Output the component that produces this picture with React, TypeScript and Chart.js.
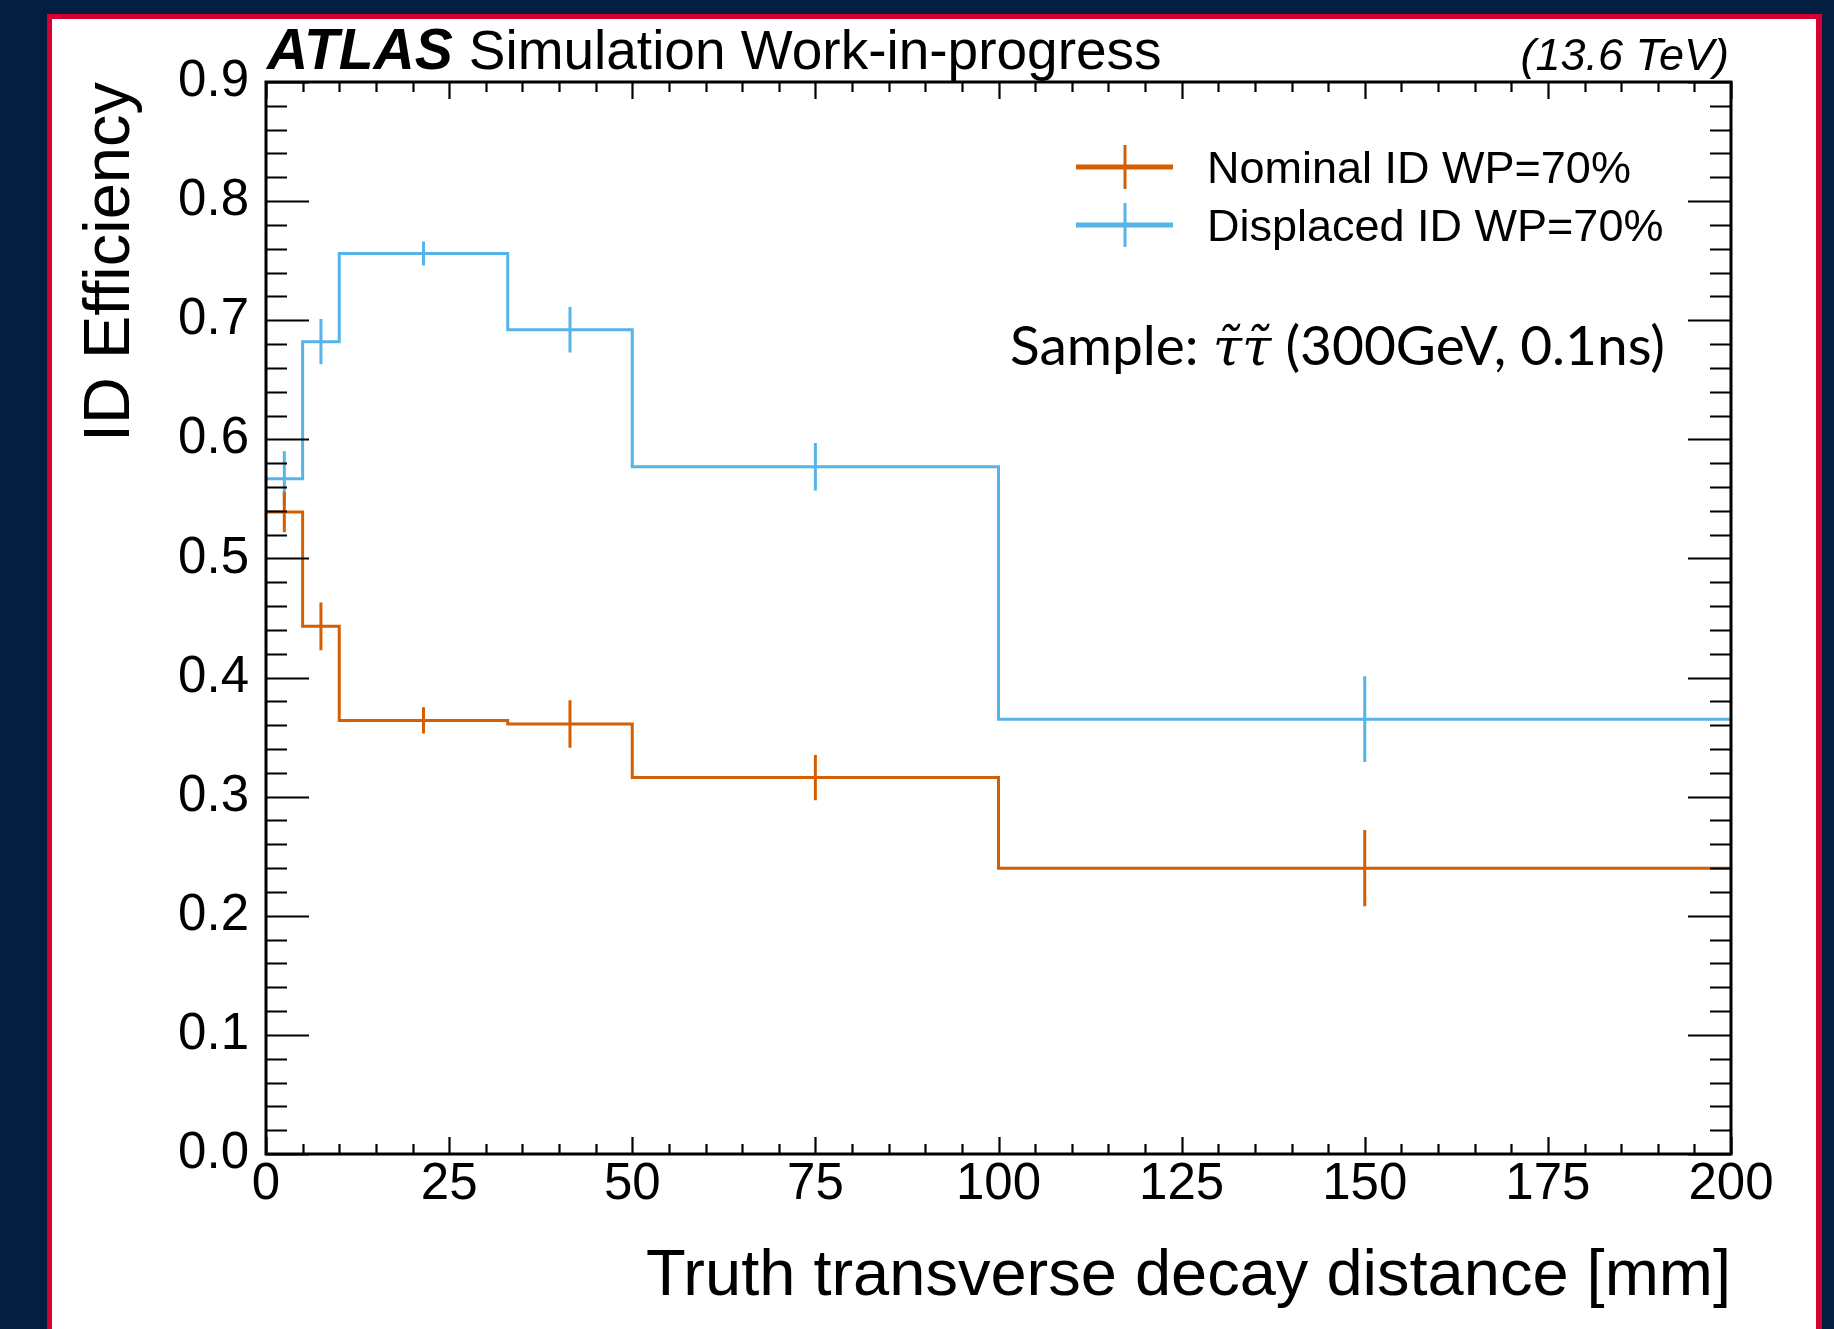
import { useEffect, useRef } from 'react';
import { Chart, registerables } from 'chart.js';

Chart.register(...registerables);

// ---- data ----
const binEdges = [0, 5, 10, 33, 50, 100, 200];
const nominalEff = [0.539, 0.443, 0.364, 0.361, 0.316, 0.24];
const nominalErr = [0.017, 0.02, 0.011, 0.02, 0.019, 0.032];
const displacedEff = [0.567, 0.682, 0.756, 0.692, 0.577, 0.365];
const displacedErr = [0.023, 0.019, 0.01, 0.019, 0.02, 0.036];
const seriesLabels = ['Nominal ID WP=70%', 'Displaced ID WP=70%'];
const seriesColors = ['#D55E00', '#56B4E9'];
const xTitle = 'Truth transverse decay distance [mm]';
const yTitle = 'ID Efficiency';
const atlasLabel = 'ATLAS';
const atlasSub = 'Simulation Work-in-progress';
const energyLabel = '(13.6 TeV)';
const sampleParts = ['Sample: ', 'τ̃τ̃', ' (300GeV, 0.1ns)'];
const xRange = [0, 200];
const yRange = [0, 0.9];
const xMajorStep = 25;
const xMinorStep = 5;
const yMajorStep = 0.1;
const yMinorStep = 0.02;

const SANS = '"Liberation Sans", Arial, Helvetica, sans-serif';

const stepPoints = (vals: number[]) =>
  binEdges.map((e, i) => ({ x: e, y: vals[Math.min(i, vals.length - 1)] }));

const errPoints = (vals: number[], errs: number[]) => {
  const pts: { x: number; y: number | null }[] = [];
  vals.forEach((v, i) => {
    const c = (binEdges[i] + binEdges[i + 1]) / 2;
    pts.push({ x: c, y: v - errs[i] });
    pts.push({ x: c, y: v + errs[i] });
    pts.push({ x: c, y: null });
  });
  return pts;
};

const decorPlugin = {
  id: 'decor',
  beforeDraw(chart: any) {
    const { ctx, width, height } = chart;
    ctx.save();
    ctx.fillStyle = '#041E42';
    ctx.fillRect(0, 0, width, height);
    ctx.fillStyle = '#D50032';
    ctx.fillRect(47, 14, 1822 - 47, height - 14);
    ctx.fillStyle = '#FFFFFF';
    ctx.fillRect(52, 19, 1816 - 52, height - 19);
    ctx.restore();
  },
  afterDraw(chart: any) {
    const { ctx, chartArea: a } = chart;
    const xs = chart.scales.x;
    const ys = chart.scales.y;
    ctx.save();
    // ticks (ROOT style, inside, all four sides)
    ctx.strokeStyle = '#000';
    ctx.lineWidth = 2.2;
    ctx.beginPath();
    const nx = Math.round((xRange[1] - xRange[0]) / xMinorStep);
    for (let i = 0; i <= nx; i++) {
      const v = xRange[0] + i * xMinorStep;
      const px = Math.round(xs.getPixelForValue(v)) + 0.5;
      const major = Math.abs(v / xMajorStep - Math.round(v / xMajorStep)) < 1e-6;
      const len = major ? 17 : 10;
      ctx.moveTo(px, a.bottom);
      ctx.lineTo(px, a.bottom - len);
      ctx.moveTo(px, a.top);
      ctx.lineTo(px, a.top + len);
    }
    const ny = Math.round((yRange[1] - yRange[0]) / yMinorStep);
    for (let i = 0; i <= ny; i++) {
      const v = yRange[0] + i * yMinorStep;
      const py = Math.round(ys.getPixelForValue(v)) + 0.5;
      const major = Math.abs(v / yMajorStep - Math.round(v / yMajorStep)) < 1e-6;
      const len = major ? 43 : 21;
      ctx.moveTo(a.left, py);
      ctx.lineTo(a.left + len, py);
      ctx.moveTo(a.right, py);
      ctx.lineTo(a.right - len, py);
    }
    ctx.stroke();
    // frame
    ctx.lineWidth = 3;
    ctx.strokeRect(a.left, a.top, a.right - a.left, a.bottom - a.top);

    // ATLAS label
    ctx.fillStyle = '#000';
    ctx.textBaseline = 'alphabetic';
    ctx.textAlign = 'left';
    ctx.font = `italic bold 57px ${SANS}`;
    ctx.fillText(atlasLabel, a.left + 1, 69);
    const aw = ctx.measureText(atlasLabel).width;
    ctx.font = `55px ${SANS}`;
    ctx.fillText(atlasSub, a.left + 1 + aw + 16, 69);
    ctx.font = `italic 45px ${SANS}`;
    ctx.textAlign = 'right';
    ctx.fillText(energyLabel, a.right - 2, 70);

    // legend
    const legendY = [167, 225];
    seriesLabels.forEach((lab, i) => {
      const y = legendY[i];
      ctx.strokeStyle = seriesColors[i];
      ctx.lineWidth = 5;
      ctx.beginPath();
      ctx.moveTo(1076, y);
      ctx.lineTo(1173, y);
      ctx.stroke();
      ctx.lineWidth = 3;
      ctx.beginPath();
      ctx.moveTo(1125, y - 22);
      ctx.lineTo(1125, y + 22);
      ctx.stroke();
      ctx.fillStyle = '#000';
      ctx.textAlign = 'left';
      ctx.font = `45px ${SANS}`;
      ctx.fillText(lab, 1207, y + 16);
    });

    // sample text
    let sx = 1010;
    const sy = 365;
    const fonts = ['55px Lato, "Open Sans", sans-serif', 'italic 53px "DejaVu Serif", serif', '55px Lato, "Open Sans", sans-serif'];
    sampleParts.forEach((t, i) => {
      ctx.font = fonts[i];
      ctx.textAlign = 'left';
      ctx.fillText(t, sx, sy);
      sx += ctx.measureText(t).width;
    });
    ctx.restore();
  },
};

export default function App() {
  const ref = useRef<HTMLCanvasElement | null>(null);
  useEffect(() => {
    if (!ref.current) return;
    const chart = new Chart(ref.current, {
      type: 'line',
      data: {
        datasets: [
          {
            label: seriesLabels[0],
            data: stepPoints(nominalEff) as any,
            borderColor: seriesColors[0],
            borderWidth: 3,
            stepped: true,
            pointRadius: 0,
            fill: false,
          },
          {
            label: seriesLabels[0] + ' err',
            data: errPoints(nominalEff, nominalErr) as any,
            borderColor: seriesColors[0],
            borderWidth: 3,
            pointRadius: 0,
            spanGaps: false,
            fill: false,
          },
          {
            label: seriesLabels[1],
            data: stepPoints(displacedEff) as any,
            borderColor: seriesColors[1],
            borderWidth: 3,
            stepped: true,
            pointRadius: 0,
            fill: false,
          },
          {
            label: seriesLabels[1] + ' err',
            data: errPoints(displacedEff, displacedErr) as any,
            borderColor: seriesColors[1],
            borderWidth: 3,
            pointRadius: 0,
            spanGaps: false,
            fill: false,
          },
        ],
      },
      plugins: [decorPlugin],
      options: {
        animation: false,
        responsive: false,
        events: [],
        layout: { padding: { left: 0, top: 82, right: 103, bottom: 0 } },
        plugins: { legend: { display: false }, tooltip: { enabled: false } },
        scales: {
          x: {
            type: 'linear',
            min: xRange[0],
            max: xRange[1],
            grid: { display: false, drawTicks: false },
            border: { display: false },
            ticks: {
              stepSize: xMajorStep,
              padding: 0,
              autoSkip: false,
              maxRotation: 0,
              color: '#000',
              font: { family: SANS, size: 51 },
            },
            title: {
              display: true,
              text: xTitle,
              align: 'end',
              color: '#000',
              font: { family: SANS, size: 65 },
              padding: { top: 0, bottom: 13 },
            },
            afterFit: (s: any) => {
              s.height = 175;
            },
          },
          y: {
            type: 'linear',
            min: yRange[0],
            max: yRange[1],
            grid: { display: false, drawTicks: false },
            border: { display: false },
            ticks: {
              stepSize: yMajorStep,
              padding: 17,
              color: '#000',
              font: { family: SANS, size: 51 },
              callback: (v: any) => Number(v).toFixed(1),
            },
            title: {
              display: true,
              text: yTitle,
              align: 'end',
              color: '#000',
              font: { family: SANS, size: 65 },
              padding: { top: 72, bottom: 0 },
            },
            afterFit: (s: any) => {
              s.width = 266;
            },
          },
        },
      } as any,
    });
    return () => chart.destroy();
  }, []);
  return (
    <div style={{ position: 'fixed', left: 0, top: 0, width: 1834, height: 1329 }}>
      <canvas ref={ref} width={1834} height={1329} style={{ display: 'block' }} />
    </div>
  );
}
